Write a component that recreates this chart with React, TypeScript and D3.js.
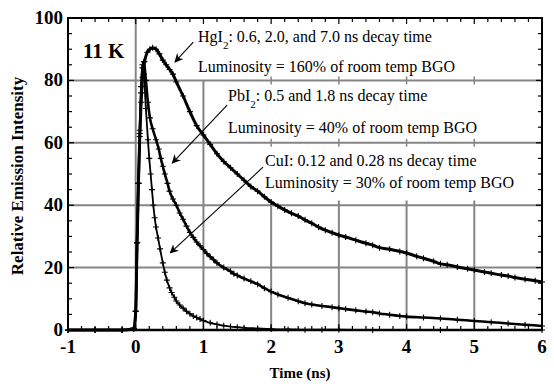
import React from 'react';
import * as d3 from 'd3';

// time (ns), relative intensity
const hgi2Data: [number, number][] = [
  [-1, 0], [-0.6, 0], [-0.2, 0], [-0.03, 0.5], [0, 6], [0.02, 28], [0.04, 47], [0.06, 62],
  [0.08, 73], [0.1, 81], [0.13, 86], [0.17, 89], [0.21, 90], [0.25, 90.5], [0.3, 90],
  [0.35, 88.5], [0.4, 86.5], [0.45, 85], [0.5, 83.5], [0.55, 82], [0.6, 79.5], [0.7, 75],
  [0.8, 70], [0.9, 65.5], [1.0, 62.5], [1.1, 59.5], [1.2, 56.5], [1.3, 54], [1.4, 52],
  [1.5, 50], [1.6, 48], [1.7, 46], [1.8, 44.5], [1.9, 42.7], [2.0, 41], [2.1, 39.7],
  [2.2, 38.5], [2.3, 37.4], [2.4, 36.5], [2.5, 35.3], [2.6, 34.2], [2.7, 33], [2.8, 32],
  [2.9, 31.2], [3.0, 30.4], [3.1, 29.8], [3.25, 28.8], [3.4, 27.8], [3.5, 27.2], [3.6, 26.4],
  [3.75, 25.9], [3.9, 25.2], [4.0, 24.7], [4.15, 23.6], [4.25, 23], [4.4, 22], [4.5, 21.2],
  [4.6, 20.9], [4.75, 20.2], [4.9, 19.6], [5.0, 19.2], [5.15, 18.6], [5.25, 18.2], [5.4, 17.6],
  [5.5, 17.3], [5.6, 16.8], [5.75, 16.3], [5.9, 15.8], [6.0, 15.4],
];

const pbi2Data: [number, number][] = [
  [-1, 0], [-0.6, 0], [-0.2, 0], [-0.03, 0.5], [0, 6], [0.02, 28], [0.04, 47], [0.06, 63],
  [0.08, 76], [0.1, 84], [0.12, 86], [0.15, 80], [0.18, 73], [0.21, 68], [0.25, 64.5],
  [0.3, 61], [0.34, 58], [0.37, 55], [0.4, 52.5], [0.43, 50], [0.47, 47], [0.5, 44.5],
  [0.55, 42], [0.6, 40], [0.65, 37.5], [0.7, 35.5], [0.75, 33.3], [0.8, 31.3], [0.85, 29.7],
  [0.9, 28.2], [0.95, 27], [1.0, 25.8], [1.05, 24.5], [1.1, 23.5], [1.15, 22.5], [1.2, 21.5],
  [1.3, 20], [1.4, 18.8], [1.45, 18], [1.5, 17.5], [1.6, 16.5], [1.7, 15.6], [1.8, 14.7],
  [1.9, 13.4], [2.0, 12.3], [2.1, 11.4], [2.25, 10.3], [2.4, 9.2], [2.5, 8.6], [2.6, 8.2],
  [2.75, 7.7], [2.9, 7.3], [3.0, 7], [3.1, 6.7], [3.25, 6.3], [3.4, 5.9], [3.5, 5.7],
  [3.6, 5.3], [3.75, 4.9], [3.9, 4.5], [4.0, 4.3], [4.25, 4], [4.5, 3.7], [4.75, 3.3],
  [5.0, 2.9], [5.25, 2.5], [5.5, 2.1], [5.75, 1.7], [6.0, 1.3],
];

const cuiData: [number, number][] = [
  [-1, 0], [-0.6, 0], [-0.2, 0], [-0.03, 0.5], [0, 6], [0.02, 28], [0.04, 47], [0.06, 64],
  [0.08, 78], [0.1, 85], [0.12, 82], [0.15, 71], [0.18, 61], [0.2, 55], [0.22, 50],
  [0.24, 45], [0.26, 40], [0.28, 36], [0.3, 33], [0.33, 29.5], [0.36, 26], [0.4, 21.5],
  [0.43, 18.5], [0.46, 16], [0.5, 13.5], [0.53, 12], [0.57, 10.5], [0.6, 9.3], [0.65, 8],
  [0.7, 7], [0.75, 6], [0.8, 5.2], [0.85, 4.5], [0.9, 4], [0.95, 3.5], [1.0, 3], [1.1, 2.3],
  [1.2, 1.8], [1.3, 1.4], [1.4, 1.1], [1.5, 0.9], [1.6, 0.7], [1.8, 0.5], [2.0, 0.3],
  [2.25, 0.2], [2.5, 0.1], [2.75, 0.1], [3.0, 0.1], [3.5, 0], [4.5, 0], [6, 0],
];

const xTicks = [-1, 0, 1, 2, 3, 4, 5, 6];
const yTicks = [0, 20, 40, 60, 80, 100];
const xGrid = [0, 1, 2, 3, 4, 5];
const xGridTop = [100, 80, 41.5, 41.5, 41.5, 41.5];
const yGrid = [20, 40, 60, 80];

const W = 554;
const H = 392;
const margin = { top: 18, right: 12, bottom: 62, left: 68 };
const serif = "'Liberation Serif', 'DejaVu Serif', serif";
const boldText = { fontFamily: serif, fontWeight: 700 } as const;

export default function App() {
  const x = d3.scaleLinear().domain([-1, 6]).range([margin.left, W - margin.right]);
  const y = d3.scaleLinear().domain([0, 100]).range([H - margin.bottom, margin.top]);
  const line = d3
    .line<[number, number]>()
    .x((d) => x(d[0]))
    .y((d) => y(d[1]))
    .curve(d3.curveMonotoneX);

  const minorX = d3.range(-1, 6.001, 0.2);
  const minorY = d3.range(0, 100.001, 5);
  const [x0, x1] = x.range();
  const [y0, y1] = y.range();

  const series = [
    { data: hgi2Data, w: 3 },
    { data: pbi2Data, w: 2.6 },
    { data: cuiData, w: 1.8 },
  ];

  const arrows = [
    { from: [0.85, 92.3], to: [0.58, 85.9] },
    { from: [1.35, 72.1], to: [0.54, 53.5] },
    { from: [1.88, 52.2], to: [0.51, 24.7] },
  ];

  return (
    <svg width={W} height={H} style={{ position: 'absolute', left: 0, top: 0, background: '#fff' }}>
      <defs>
        <marker id="ah" viewBox="0 0 10 10" refX="9" refY="5" markerWidth="9" markerHeight="9" orient="auto-start-reverse" markerUnits="userSpaceOnUse">
          <path d="M0,0 L10,5 L0,10 L3,5 Z" fill="#000" />
        </marker>
      </defs>

      {/* grid */}
      {yGrid.map((v) => (
        <line key={'gy' + v} x1={x0} x2={x1} y1={y(v)} y2={y(v)} stroke="#858585" strokeWidth={2} />
      ))}
      {xGrid.map((t, i) => (
        <line key={'gx' + t} x1={x(t)} x2={x(t)} y1={y0} y2={y(xGridTop[i])} stroke="#858585" strokeWidth={2} />
      ))}
      {[2, 3, 4, 5].flatMap((t) =>
        [60, 80].map((v) => (
          <line key={`c${t}-${v}`} x1={x(t)} x2={x(t)} y1={y(v) - 4} y2={y(v) + 4} stroke="#858585" strokeWidth={1.5} />
        ))
      )}

      {/* data */}
      {series.map((s, i) => (
        <g key={i}>
          <path d={line(s.data) || ''} fill="none" stroke="#000" strokeWidth={s.w} />
          {s.data.map((d, j) => (
            <path key={j} transform={`translate(${x(d[0])},${y(d[1])})`} d="M-3,0H3M0,-3V3" stroke="#000" strokeWidth={1.1} />
          ))}
        </g>
      ))}

      {/* frame + ticks */}
      <rect x={x0} y={y1} width={x1 - x0} height={y0 - y1} fill="none" stroke="#000" strokeWidth={2} />
      <line x1={x0} x2={x1} y1={y0} y2={y0} stroke="#000" strokeWidth={2.6} />
      {minorX.map((t, i) => {
        const len = i % 5 === 0 ? 6 : 4;
        return (
          <g key={'tx' + i}>
            <line x1={x(t)} x2={x(t)} y1={y0} y2={y0 - len} stroke="#000" strokeWidth={1.2} />
            <line x1={x(t)} x2={x(t)} y1={y1} y2={y1 + len} stroke="#000" strokeWidth={1.2} />
          </g>
        );
      })}
      {minorY.map((v, i) => {
        const len = i % 4 === 0 ? 6 : 4;
        return (
          <g key={'ty' + i}>
            <line x1={x0} x2={x0 + len} y1={y(v)} y2={y(v)} stroke="#000" strokeWidth={1.2} />
            <line x1={x1} x2={x1 - len} y1={y(v)} y2={y(v)} stroke="#000" strokeWidth={1.2} />
          </g>
        );
      })}

      {/* tick labels */}
      {xTicks.map((t) => (
        <text key={'lx' + t} x={x(t)} y={y0 + 23} textAnchor="middle" style={{ ...boldText, fontSize: 19 }}>
          {t}
        </text>
      ))}
      {yTicks.map((v) => (
        <text key={'ly' + v} x={x0 - 5} y={y(v) + 6} textAnchor="end" style={{ ...boldText, fontSize: 19 }}>
          {v}
        </text>
      ))}

      {/* axis titles */}
      <text x={300} y={378} textAnchor="middle" style={{ ...boldText, fontSize: 15 }}>
        Time (ns)
      </text>
      <text transform="translate(23,176) rotate(-90)" textAnchor="middle" style={{ ...boldText, fontSize: 17 }}>
        Relative Emission Intensity
      </text>

      <text x={83} y={58} style={{ ...boldText, fontSize: 21 }}>
        11 K
      </text>

      {/* annotations */}
      {arrows.map((a, i) => (
        <line key={'a' + i} x1={x(a.from[0])} y1={y(a.from[1])} x2={x(a.to[0])} y2={y(a.to[1])} stroke="#000" strokeWidth={1.1} markerEnd="url(#ah)" />
      ))}
      <g style={{ fontFamily: serif, fontSize: 16 }}>
        <text x={198} y={42}>
          HgI<tspan dy={7} fontSize={11}>2</tspan><tspan dy={-7}>: 0.6, 2.0, and 7.0 ns decay time</tspan>
        </text>
        <text x={198} y={72}>Luminosity = 160% of room temp BGO</text>
        <text x={228} y={101}>
          PbI<tspan dy={7} fontSize={11}>2</tspan><tspan dy={-7}>: 0.5 and 1.8 ns decay time</tspan>
        </text>
        <text x={228} y={133}>Luminosity = 40% of room temp BGO</text>
        <text x={265} y={166}>CuI: 0.12 and 0.28 ns decay time</text>
        <text x={265} y={188}>Luminosity = 30% of room temp BGO</text>
      </g>
    </svg>
  );
}
